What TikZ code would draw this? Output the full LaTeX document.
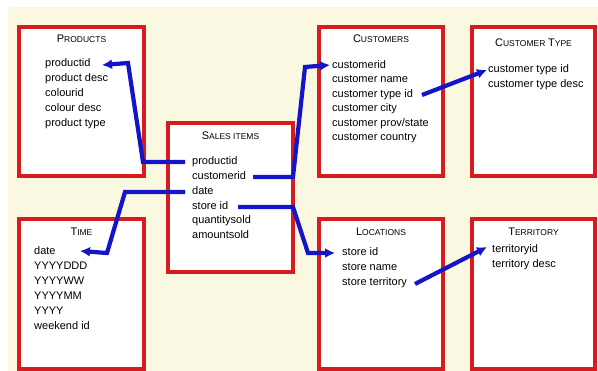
\documentclass[tikz,border=0pt]{standalone}
\usepackage{fontspec}
\setmainfont{Liberation Sans}
\usetikzlibrary{arrows.meta}
\definecolor{cream}{RGB}{251,248,226}
\definecolor{boxred}{RGB}{214,28,30}
\definecolor{connblue}{RGB}{20,20,200}
\newcommand{\fsc}[2]{{\fontsize{11}{13}\selectfont #1}{\fontsize{8.5}{10}\selectfont #2}}
\tikzset{
  tablebox/.style={draw=boxred,line width=3.8pt,fill=white},
  item/.style={anchor=west,inner sep=0pt,text height=8pt,text depth=2.5pt,font=\fontsize{11}{13}\selectfont},
  title/.style={anchor=center,inner sep=0pt,text height=8pt,text depth=1pt},
  conn/.style={draw=connblue,line width=4.2pt,-{Latex[length=10pt,width=10pt]}}
}
\begin{document}
\begin{tikzpicture}[x=1pt,y=-1pt]
\useasboundingbox (0,0) rectangle (598,371);
\fill[white] (0,0) rectangle (598,371);
\fill[cream] (8,7) rectangle (598,371);
% boxes
\draw[tablebox] (19,27) rectangle (144,176);
\draw[tablebox] (168,123) rectangle (293,272);
\draw[tablebox] (319,27) rectangle (443,176);
\draw[tablebox] (472,27) rectangle (595,176);
\draw[tablebox] (19,219) rectangle (144,369);
\draw[tablebox] (319,219) rectangle (443,369);
\draw[tablebox] (472,219) rectangle (595,369);
% Products
\node[title] (tprod) at (81.5,39) {\fsc{P}{RODUCTS}};
\node[item] (pp) at (45,64) {productid};
\node[item] (pd) at (45,79) {product desc};
\node[item] (pc) at (45,94) {colourid};
\node[item] (pcd) at (45,109) {colour desc};
\node[item] (pt) at (45,124) {product type};
% Sales items
\node[title] (tsales) at (230.5,136) {\fsc{S}{ALES ITEMS}};
\node[item] (sp) at (192,162) {productid};
\node[item] (sc) at (192,177) {customerid};
\node[item] (sd) at (192,192) {date};
\node[item] (ss) at (192,207) {store id};
\node[item] (sq) at (192,221) {quantitysold};
\node[item] (sa) at (192,236) {amountsold};
% Customers
\node[title] (tcust) at (381,39) {\fsc{C}{USTOMERS}};
\node[item] (cc) at (332,66) {customerid};
\node[item] (cn) at (332,80) {customer name};
\node[item] (ct) at (332,95) {customer type id};
\node[item] (ccity) at (332,109) {customer city};
\node[item] (cps) at (332,124) {customer prov/state};
\node[item] (cco) at (332,138) {customer country};
% Customer type
\node[title] (tctype) at (533.5,43) {\fsc{C}{USTOMER} \fsc{T}{YPE}};
\node[item] (tti) at (488,70) {customer type id};
\node[item] (ttd) at (488,85) {customer type desc};
% Time
\node[title] (ttime) at (81.5,232) {\fsc{T}{IME}};
\node[item] (td) at (34,252) {date};
\node[item] (t1) at (34,267) {YYYYDDD};
\node[item] (t2) at (34,282) {YYYYWW};
\node[item] (t3) at (34,297) {YYYYMM};
\node[item] (t4) at (34,312) {YYYY};
\node[item] (t5) at (34,327) {weekend id};
% Locations
\node[title] (tloc) at (381,232) {\fsc{L}{OCATIONS}};
\node[item] (ls) at (342,253) {store id};
\node[item] (ln) at (342,268) {store name};
\node[item] (lt) at (342,283) {store territory};
% Territory
\node[title] (tterr) at (533.5,232) {\fsc{T}{ERRITORY}};
\node[item] (ti) at (492,250) {territoryid};
\node[item] (tdsc) at (492,265) {territory desc};
% connectors
\draw[conn] ([xshift=-7pt]sp.west) -- (143,162) -- (128,63) -- ([xshift=57pt,yshift=-1pt]pp.west);
\draw[conn] ([xshift=61pt]sc.west) -- (293,177) -- (305,67) -- ([xshift=-2pt,yshift=1pt]cc.west);
\draw[conn] ([xshift=90pt]ct.west) -- ([xshift=-1pt]tti.west);
\draw[conn] ([xshift=-7pt]sd.west) -- (125,192) -- (107,253) -- ([xshift=46pt,yshift=1pt]td.west);
\draw[conn] ([xshift=46pt]ss.west) -- (293,207) -- (308,253) -- ([xshift=-7pt]ls.west);
\draw[conn] ([xshift=73pt,yshift=-1pt]lt.west) -- ([xshift=-5pt,yshift=3pt]ti.west);
\end{tikzpicture}
\end{document}
